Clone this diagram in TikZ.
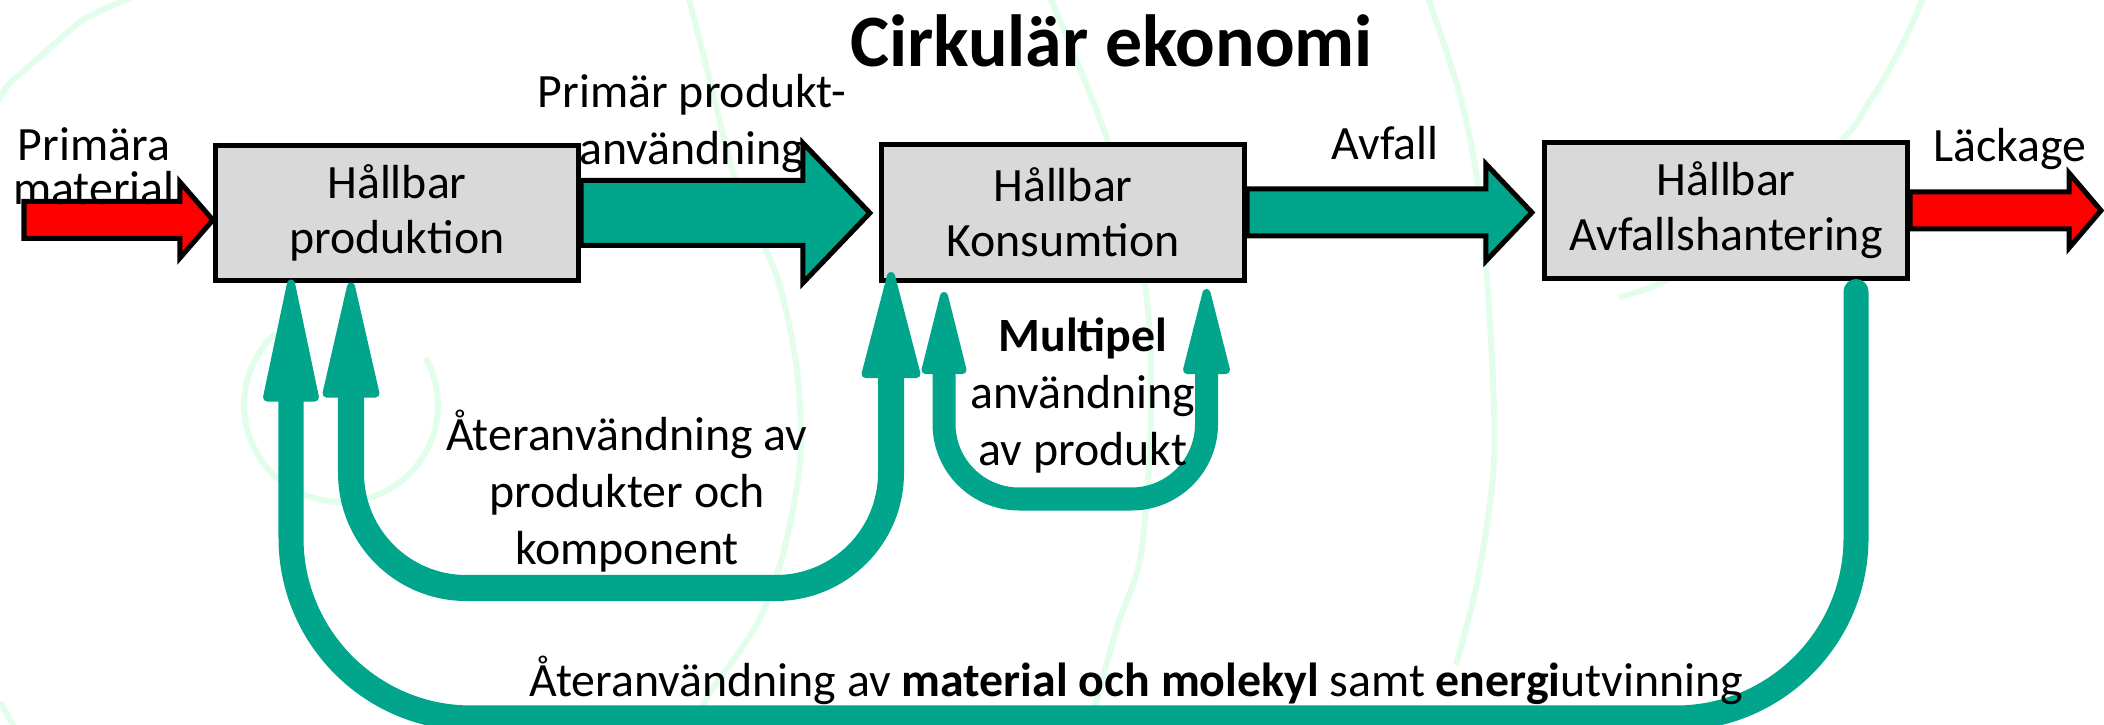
\documentclass[tikz,border=0pt]{standalone}
\usepackage{fontspec}
\setmainfont{Carlito}
\usetikzlibrary{calc}
\definecolor{recyc}{RGB}{0,165,140}
\definecolor{leak}{RGB}{255,0,0}
\definecolor{boxgray}{RGB}{217,217,217}
\definecolor{faint}{RGB}{226,253,234}
\newcommand\bodyfont{\fontsize{13.6}{15.65}\selectfont}
\newcommand\stack[1]{\begin{tabular}[t]{@{}c@{}}#1\end{tabular}}
% block arrow: tail, tip, shaft half width, head half width, head length, fill
\newcommand\fatarrow[6]{%
	\draw[blockline,fill=#6] let \p1=(#1),\p2=(#2) in
	($(\x1,\y1)+(0,-#3)$) -- ($(\x2,\y1)+(-#5,-#3)$) -- ($(\x2,\y1)+(-#5,-#4)$) -- (\x2,\y1)
	-- ($(\x2,\y1)+(-#5,#4)$) -- ($(\x2,\y1)+(-#5,#3)$) -- ($(\x1,\y1)+(0,#3)$) -- cycle;}
% head of a return loop: tip, length, half width
\newcommand\uphead[3]{\filldraw[headline] ($(#1)+(-#3,#2)$) -- (#1) -- ($(#1)+(#3,#2)$) -- cycle;}
\begin{document}
\begin{tikzpicture}[x=0.01cm,y=-0.01cm,
	box/.style={draw,line width=0.05cm,fill=boxgray,minimum width=3.63cm,minimum height=1.35cm,align=center,inner sep=0pt,font=\bodyfont},
	lbl/.style={anchor=base,inner sep=0pt,font=\fontsize{13.6}{16.2}\selectfont},
	blockline/.style={line width=0.05cm,line join=miter},
	loopline/.style={draw=recyc,line cap=round},
	headline/.style={fill=recyc,draw=recyc,line width=0.08cm,line join=round},
	bgline/.style={draw=faint,line width=0.06cm}]
	\useasboundingbox (0,0) rectangle (2104,725);
	% faint rings behind
	\draw[bgline] plot[smooth] coordinates {(132,-3) (83,20) (40,57) (10,83) (-3,103)};
	\draw[bgline] plot[smooth] coordinates {(688,-5) (707,69) (737,185) (777,277) (797,370) (800,462) (783,554) (757,624) (710,693) (690,730)};
	\draw[bgline] plot[smooth] coordinates {(1049,-5) (1107,139) (1145,286) (1151,416) (1141,554) (1118,624) (1096,702) (1088,730)};
	\draw[bgline] plot[smooth] coordinates {(1427,-5) (1459,92) (1478,185) (1490,323) (1494,462) (1478,578) (1456,665)};
	\draw[bgline] plot[smooth] coordinates {(1924,-5) (1908,33) (1885,77) (1866,107) (1845,137) (1760,215) (1666,280) (1619,297)};
	\draw[bgline] plot[domain=-29:228,samples=50] ({341+97*cos(\x)},{405+97*sin(\x)});
	\draw[bgline] (0,702) -- (14,727);
	% boxes
	\foreach \n/\x/\y/\t in {hp/397/213/{Hållbar\\produktion},hk/1063/212.5/{Hållbar\\Konsumtion},ha/1726/210.5/{Hållbar\\Avfallshantering}}
	\node[box] (\n) at (\x,\y) {\t};
	\coordinate (src) at (24,220);
	\coordinate (sink) at (2101,208);
	\fatarrow{src}{hp.west}{18.5}{38}{33}{leak}
	\fatarrow{hp.east}{$(hk.west)+(-9,0)$}{32.5}{70}{67}{recyc}
	\fatarrow{hk.east}{$(ha.west)+(-10,0)$}{23.5}{48.5}{46}{recyc}
	\fatarrow{ha.east}{sink}{18.5}{37.5}{32}{leak}
	% return loops
	\path ($(hp.south)+(-106,0.5)$) coordinate (o1)
	($(ha.south)+(130,11)$) coordinate (o2)
	($(hp.south)+(-46,3.5)$) coordinate (i1)
	($(hk.south)+(-172,-6.5)$) coordinate (i2)
	($(hk.south)+(-119,13.5)$) coordinate (m1)
	($(hk.south)+(143.5,10.5)$) coordinate (m2)
	(0,718) coordinate (lowo) (0,588) coordinate (lowi) (0,499) coordinate (lowm);
	\draw[loopline,line width=0.25cm,rounded corners=1.8cm] (o2) -- (o2 |- lowo) -- (o1 |- lowo) -- ($(o1)+(0,114)$);
	\draw[loopline,line width=0.26cm,rounded corners=1.15cm] ($(i2)+(0,98)$) -- (i2 |- lowi) -- (i1 |- lowi) -- ($(i1)+(0,107)$);
	\draw[loopline,line width=0.23cm,rounded corners=0.75cm] ($(m1)+(0,74)$) -- (m1 |- lowm) -- (m2 |- lowm) -- ($(m2)+(0,77)$);
	\foreach \p/\l/\w in {o1/114/24,i1/107/24.5,i2/98/25.5,m1/74/18.5,m2/77/19.5}{\uphead{\p}{\l}{\w}}
	% texts
	\node[anchor=base,inner sep=0pt,font=\fontsize{21}{25}\selectfont\bfseries] (title) at (1111.5,67) {Cirkulär ekonomi};
	\node[lbl,font=\fontsize{13.6}{10}\selectfont] (prim) at (94,161) {\stack{Primära\\material}};
	\node[lbl] (ppa) at (692,108) {\stack{Primär produkt-\\användning}};
	\node[lbl] (avf) at (1385,160) {Avfall};
	\node[lbl] (lack) at (2010,162) {Läckage};
	\node[lbl] (reuse) at (627,451) {\stack{Återanvändning av\\produkter och\\komponent}};
	\node[lbl,font=\fontsize{13.6}{16.1}\selectfont] (multi) at (1083,352) {\stack{\textbf{Multipel}\\användning\\av produkt}};
	\node[lbl] (matr) at (1136.5,696) {Återanvändning av \textbf{material och molekyl} samt \textbf{energi}utvinning};
\end{tikzpicture}
\end{document}
